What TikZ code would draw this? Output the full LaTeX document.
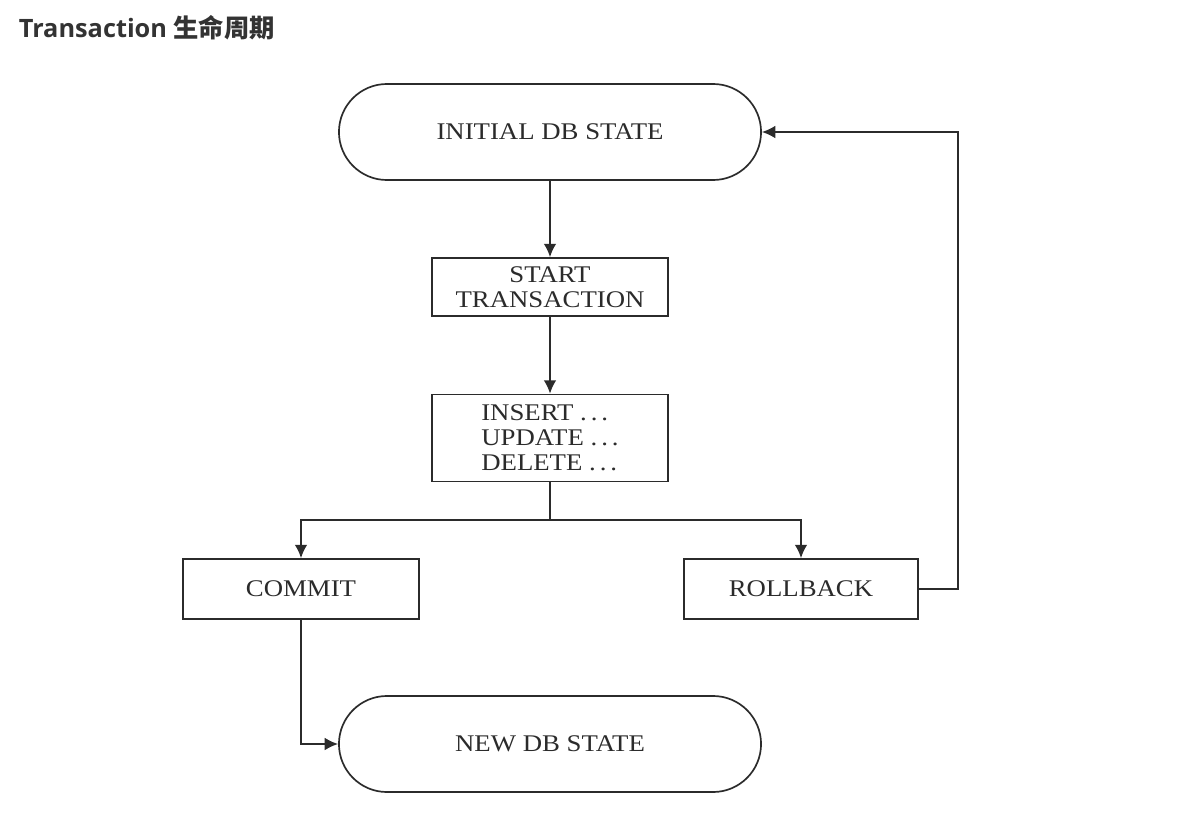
\documentclass[tikz,border=0pt]{standalone}
\usepackage{fontspec}
\setmainfont{Liberation Serif}[FakeStretch=1.12]
\newfontfamily\titlefont{Open Sans}
\newfontfamily\cjk{Noto Sans CJK SC}
\usepackage{tikz}
\usetikzlibrary{shapes.misc,arrows.meta,positioning}
\definecolor{ink}{HTML}{2B2B2B}
\definecolor{titleink}{HTML}{333333}

\begin{document}
\begin{tikzpicture}[x=0.025cm, y=-0.025cm,
    line width=1.2pt, draw=ink, text=ink,
    every node/.style={font=\fontsize{17}{17.8}\selectfont},
    dbstate/.style={draw, rounded rectangle, minimum width=10.55cm, minimum height=2.4cm, inner sep=0pt},
    stepbox/.style={draw, rectangle, minimum width=5.9cm, inner sep=0pt, align=center},
    flow/.style={draw=ink, -{Latex[length=9.5pt,width=9pt]}}]
    \useasboundingbox (0,0) rectangle (1180,815);

    \node[anchor=base west, inner sep=0pt, text=titleink, font=\fontsize{18}{20}\selectfont\bfseries] (title) at (18,37) {\titlefont Transaction \cjk 生命周期};

    \node[dbstate] (init) at (550,132) {INITIAL DB STATE};
    \node[stepbox, minimum height=1.45cm] (start) at (550,287) {START\\TRANSACTION};
    \node[stepbox, minimum height=2.175cm, align=left] (ops) at (550,438) {INSERT .\,.\,.\\UPDATE .\,.\,.\\DELETE .\,.\,.};
    \node[stepbox, minimum height=1.5cm] (commit) at (301,589) {COMMIT};
    \node[stepbox, minimum height=1.5cm, minimum width=5.85cm] (rollback) at (801,589) {ROLLBACK};
    \node[dbstate] (newdb) at (550,744) {NEW DB STATE};

    \coordinate (split) at (550,520);

    \draw[flow] (init) -- (start);
    \draw[flow] (start) -- (ops);
    \draw (ops) -- (split);
    \draw[flow] (split) -| (commit);
    \draw[flow] (split) -| (rollback);
    \draw[flow] (rollback.east) -- ++(39,0) |- (init.east);
    \draw[flow] (commit) |- (newdb.west);
\end{tikzpicture}
\end{document}
